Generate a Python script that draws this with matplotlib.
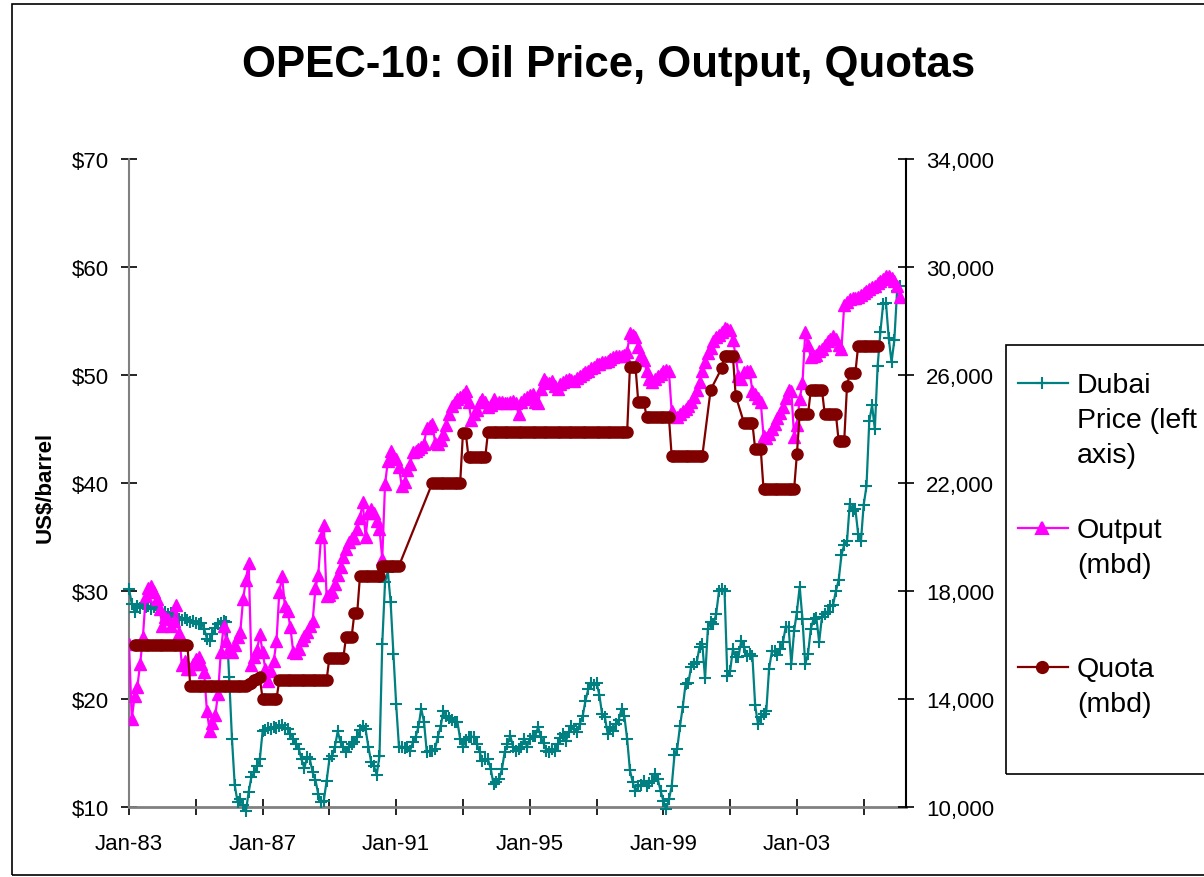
import numpy as np
import matplotlib
matplotlib.use('Agg')
import matplotlib.pyplot as plt
from matplotlib.lines import Line2D
from matplotlib.patches import Rectangle

plt.rcParams['font.family'] = ['Liberation Sans', 'DejaVu Sans']

W, H = 1204, 878

# monthly series, Jan-83 .. Feb-06 (one row per year)
price = [
    30.2, 28.8, 28.1, 28.6, 28.4, 28.8, 28.5, 28.6, 28.3, 28.5, 28.3, 28.2,
    28.0, 28.1, 27.9, 28.0, 27.8, 27.6, 27.4, 27.3, 27.5, 27.3, 27.1, 27.2,
    27.0, 26.9, 27.0, 26.5, 25.6, 25.4, 26.0, 26.6, 26.9, 27.0, 27.2, 27.1,
    22.0, 16.3, 12.0, 10.5, 10.7, 10.2, 9.6, 11.4, 12.8, 13.2, 13.8, 14.4,
    17.0, 17.1, 17.3, 17.2, 17.4, 17.3, 17.5, 17.6, 17.3, 17.2, 16.8, 16.3,
    15.8, 15.4, 14.4, 13.6, 14.6, 14.4, 13.2, 12.5, 11.2, 10.5, 10.6, 12.4,
    14.4, 14.7, 15.6, 17.0, 16.0, 15.6, 15.1, 15.6, 15.8, 16.0, 16.5, 17.1,
    17.5, 17.2, 15.6, 14.2, 13.8, 13.0, 14.7, 25.1, 30.8, 31.8, 29.0, 24.2,
    19.5, 15.6, 15.6, 15.5, 15.6, 15.2, 16.0, 16.5, 17.4, 19.1, 17.9, 15.1,
    15.2, 15.2, 15.4, 16.5, 17.5, 18.9, 18.4, 18.2, 18.1, 17.9, 17.9, 16.3,
    15.6, 16.2, 16.5, 16.5, 16.5, 15.8, 15.1, 14.3, 14.4, 14.4, 13.5, 12.1,
    12.3, 12.6, 13.5, 15.1, 15.8, 16.6, 15.6, 15.2, 15.4, 15.6, 16.3, 15.6,
    16.3, 16.6, 16.6, 17.4, 16.5, 15.9, 15.2, 15.1, 15.4, 15.2, 15.8, 16.4,
    16.8, 16.1, 16.9, 17.5, 17.2, 16.9, 17.7, 18.4, 19.8, 20.9, 21.5, 21.3,
    21.5, 20.4, 18.6, 18.3, 16.8, 17.4, 17.0, 17.7, 18.1, 19.1, 18.4, 16.3,
    13.4, 12.3, 11.5, 11.9, 12.0, 12.4, 11.9, 12.2, 12.4, 13.1, 12.6, 11.5,
    10.6, 9.8, 10.7, 11.9, 14.8, 15.4, 17.5, 19.3, 21.4, 21.5, 23.0, 23.2,
    23.4, 24.8, 25.1, 21.9, 26.5, 27.1, 26.9, 27.9, 30.0, 30.2, 30.0, 22.1,
    22.6, 24.6, 23.9, 23.9, 25.4, 24.8, 24.0, 24.2, 24.0, 19.4, 17.7, 18.3,
    18.6, 18.9, 22.8, 24.4, 24.4, 24.1, 24.6, 25.3, 26.7, 26.7, 23.2, 26.3,
    28.1, 30.4, 27.4, 23.2, 24.2, 26.5, 27.4, 27.5, 25.3, 27.6, 27.9, 28.1,
    28.6, 28.7, 30.0, 31.0, 33.3, 34.3, 34.6, 38.1, 37.4, 37.6, 35.3, 34.6,
    38.0, 39.7, 45.7, 47.2, 45.0, 50.8, 54.0, 56.6, 56.7, 53.4, 51.2, 53.2,
    57.8, 58.2,
]

output = [
    16050, 13250, 14100, 14450, 15300, 16300, 17800, 18100, 18200, 17950, 17700, 17350,
    16700, 17050, 16950, 16700, 16900, 17500, 16450, 15250, 15400, 15100, 15100, 15300,
    15500, 15550, 15300, 15000, 13550, 12800, 13100, 13400, 14200, 15750, 16700, 16150,
    15900, 15750, 16000, 16300, 16500, 17700, 18400, 19050, 15250, 15550, 15800, 16400,
    15750, 15100, 14650, 15050, 15400, 16150, 17950, 18550, 17450, 17250, 16650, 15750,
    15700, 15850, 16200, 16350, 16500, 16700, 16900, 18100, 18600, 20000, 20450, 17800,
    17850, 17950, 18250, 18600, 18900, 19250, 19550, 19800, 19950, 19950, 20300, 20700,
    21300, 20000, 20900, 21050, 20900, 20600, 20300, 19200, 21950, 22800, 23200, 23000,
    22900, 22600, 21900, 22050, 22500, 22700, 23150, 23200, 23250, 23350, 23450, 24050,
    24100, 24200, 23500, 23450, 23600, 23800, 24150, 24550, 24850, 25000, 25100, 25200,
    25250, 25400, 25000, 24350, 24550, 24700, 25000, 25100, 25000, 24800, 24900, 25100,
    24950, 25000, 25000, 24950, 24950, 25000, 25050, 24950, 24550, 25000, 25100, 25200,
    25250, 25300, 25000, 24950, 25500, 25850, 25750, 25700, 25780, 25600, 25480, 25650,
    25740, 25800, 25850, 25800, 25780, 25900, 25950, 26040, 26100, 26150, 26250, 26300,
    26400, 26420, 26480, 26500, 26520, 26600, 26670, 26700, 26700, 26700, 26750, 26850,
    27550, 27500, 27400, 27050, 26750, 26550, 26150, 25850, 25750, 25850, 25950, 26050,
    26150, 26200, 26150, 24650, 24500, 24450, 24550, 24650, 24750, 24850, 25000, 25200,
    25450, 25750, 26150, 26500, 26800, 27000, 27250, 27400, 27500, 27600, 27750, 27700,
    27650, 27300, 26700, 25950, 25850, 26100, 26150, 26150, 25400, 25300, 25150, 25000,
    23750, 23650, 23800, 24000, 24200, 24400, 24600, 24800, 25150, 25450, 25400, 23700,
    24150, 25100, 25700, 27600, 27100, 26650, 26700, 26750, 26900, 26950, 27100, 27250,
    27350, 27450, 27350, 27100, 26950, 28600, 28700, 28800, 28850, 28850, 28900, 28950,
    29050, 29100, 29200, 29250, 29300, 29400, 29500, 29550, 29650, 29650, 29600, 29500,
    29300, 28900,
]

N = None
quota = [
    N, N, 16000, 16000, 16000, 16000, 16000, 16000, 16000, 16000, 16000, 16000,
    16000, 16000, 16000, 16000, 16000, 16000, 16000, 16000, 16000, 16000, 14500, 14500,
    14500, 14500, 14500, 14500, 14500, 14500, 14500, 14500, 14500, 14500, 14500, 14500,
    14500, 14500, 14500, 14500, 14500, 14500, 14500, 14550, 14600, 14700, 14750, 14800,
    14000, 14000, 14000, 14000, 14000, 14000, 14700, 14700, 14700, 14700, 14700, 14700,
    14700, 14700, 14700, 14700, 14700, 14700, 14700, 14700, 14700, 14700, 14700, 14700,
    15520, 15520, 15520, 15520, 15520, 15520, 16300, 16300, 16300, 17190, 17190, 18560,
    18560, 18560, 18560, 18560, 18560, 18560, 18560, 18930, 18930, 18930, 18930, 18930,
    18930, 18930, N, N, N, N, N, N, N, N, N, N,
    N, 22000, 22000, 22000, 22000, 22000, 22000, 22000, 22000, 22000, 22000, 22000,
    23850, 23850, 22950, 22950, 22950, 22950, 22950, 22950, 22950, 23890, 23890, 23890,
    23890, 23890, 23890, 23890, 23890, 23890, 23890, 23890, 23890, 23890, 23890, 23890,
    23890, 23890, 23890, 23890, 23890, 23890, 23890, 23890, 23890, 23890, 23890, 23890,
    23890, 23890, 23890, 23890, 23890, 23890, 23890, 23890, 23890, 23890, 23890, 23890,
    23890, 23890, 23890, 23890, 23890, 23890, 23890, 23890, 23890, 23890, 23890, 23890,
    26300, 26300, 26300, 25000, 25000, 25000, 24450, 24450, 24450, 24450, 24450, 24450,
    24450, 24450, 24450, 23000, 23000, 23000, 23000, 23000, 23000, 23000, 23000, 23000,
    23000, 23000, 23000, N, N, 25450, N, N, N, 26260, 26710, 26710,
    26710, 26710, 25230, N, N, 24220, 24220, 24220, 24220, 23260, 23260, 23260,
    21780, 21780, 21780, 21780, 21780, 21780, 21780, 21780, 21780, 21780, 21780, 21780,
    23075, 24555, 24555, 24555, 24555, 25445, 25445, 25445, 25445, 25445, 24555, 24555,
    24555, 24555, 24555, 23560, 23560, 23560, 25590, 26075, 26075, 26075, 27075, 27075,
    27075, 27075, 27075, 27075, 27075, 27075, N, N, N, N, N, N,
    N, N,
]

x_labels = ['Jan-83', 'Jan-87', 'Jan-91', 'Jan-95', 'Jan-99', 'Jan-03']
price_ticks = [10, 20, 30, 40, 50, 60, 70]
volume_ticks = [10000, 14000, 18000, 22000, 26000, 30000, 34000]

c_price = '#008080'
c_output = '#FF00FF'
c_quota = '#800000'

def fx(px):
    return px / W

def fy(py):
    return 1 - py / H

fig = plt.figure(figsize=(W / 100, H / 100), dpi=100)
fig.patches.append(Rectangle((fx(12), fy(876)), fx(1300), fy(5) - fy(876),
                             transform=fig.transFigure, fill=False,
                             edgecolor='black', linewidth=1.2))

ax = fig.add_axes([fx(129), fy(808), fx(906) - fx(129), fy(160) - fy(808)])
ax2 = ax.twinx()

months = np.arange(len(price))
q = np.array(quota, dtype=float)
has_q = ~np.isnan(q)

ax.plot(months, price, color=c_price, lw=1.6, marker='+', ms=9, mew=1.5,
        clip_on=False, zorder=3)
ax2.plot(months, output, color=c_output, lw=1.6, marker='^', ms=9, mec=c_output)
ax2.plot(months[has_q], q[has_q], color=c_quota, lw=1.6, marker='o', ms=8)

ax.set_xlim(0, 279.2)
ax.set_ylim(10, 70)
ax2.set_ylim(10000, 34000)

ax.set_xticks(np.arange(len(x_labels)) * 48)
ax.set_xticklabels(x_labels)
ax.set_xticks(np.arange(len(x_labels)) * 48 + 24, minor=True)
ax.set_yticks(price_ticks)
ax.set_yticklabels(['$%d' % v for v in price_ticks])
ax2.set_yticks(volume_ticks)
ax2.set_yticklabels(['{:,}'.format(v) for v in volume_ticks])

ax.tick_params(axis='x', which='both', direction='inout', length=11, width=1.2,
               color='black', labelsize=16, pad=13)
ax.tick_params(axis='y', direction='inout', length=11, width=1.2,
               color='black', labelsize=16, pad=9)
ax2.tick_params(axis='y', direction='inout', length=11, width=1.2,
                color='black', labelsize=16, pad=9)

for a in (ax, ax2):
    a.spines['top'].set_visible(False)
ax.spines['right'].set_visible(False)
ax.spines['left'].set_color('#808080')
ax.spines['bottom'].set_color('#808080')
ax.spines['left'].set_linewidth(1.5)
ax.spines['bottom'].set_linewidth(2)
ax2.spines['left'].set_visible(False)
ax2.spines['bottom'].set_visible(False)
ax2.spines['right'].set_color('black')
ax2.spines['right'].set_linewidth(1.5)

fig.text(fx(609), fy(65), 'OPEC-10: Oil Price, Output, Quotas',
         fontsize=31.5, fontweight='bold', ha='center', va='center')
fig.text(fx(45), fy(487), 'US$/barrel', fontsize=16, fontweight='bold',
         rotation=90, ha='center', va='center')

# legend box drawn by hand so handles sit on the first text line
fig.patches.append(Rectangle((fx(1006), fy(775)), fx(300), fy(346) - fy(775),
                             transform=fig.transFigure, fill=False,
                             edgecolor='black', linewidth=1.2))
entries = [
    (c_price, '+', 9, 384, ['Dubai', 'Price (left', 'axis)']),
    (c_output, '^', 9, 529, ['Output', '(mbd)']),
    (c_quota, 'o', 8, 668, ['Quota', '(mbd)']),
]
for color, mk, size, yy, lines in entries:
    fig.add_artist(Line2D([fx(1018), fx(1068)], [fy(yy), fy(yy)],
                          transform=fig.transFigure, color=color, lw=1.6))
    fig.add_artist(Line2D([fx(1042)], [fy(yy)], transform=fig.transFigure,
                          color=color, marker=mk, ms=size, mew=1.5))
    for i, txt in enumerate(lines):
        fig.text(fx(1077), fy(yy + 9 + 35 * i), txt, fontsize=20.5,
                 ha='left', va='baseline')

fig.savefig('out.png', dpi=100)
